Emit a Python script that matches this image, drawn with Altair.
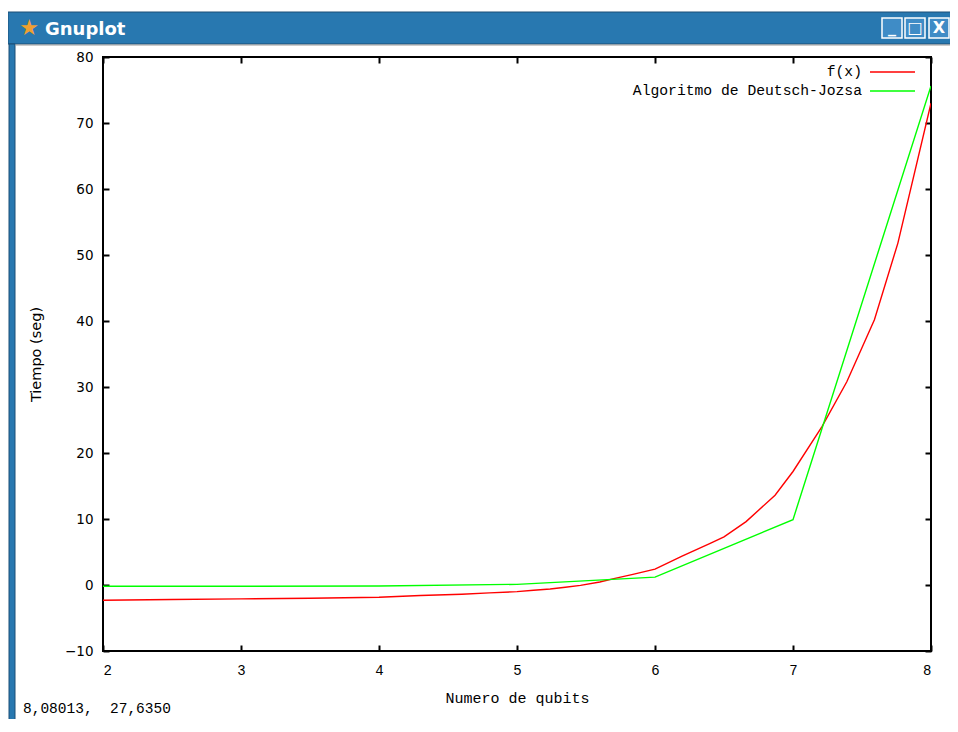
import altair as alt
import pandas as pd

# ---- data ----
red_x = [2.0, 2.5, 3.0, 3.5, 4.0, 4.3, 4.6, 4.8, 5.0, 5.12, 5.24, 5.35, 5.46, 5.6,
         5.71, 5.84, 6.0, 6.2, 6.4, 6.5, 6.66, 6.87, 7.0, 7.21, 7.39, 7.59, 7.76, 8.0]
red_y = [-2.3, -2.2, -2.1, -2.0, -1.85, -1.6, -1.4, -1.2, -1.0, -0.8, -0.6, -0.35, -0.05, 0.45,
         1.0, 1.6, 2.4, 4.4, 6.3, 7.3, 9.6, 13.6, 17.2, 24.0, 30.8, 40.2, 51.8, 73.0]
green_x = [2, 3, 4, 5, 6, 7, 8]
green_y = [-0.2, -0.2, -0.15, 0.1, 1.2, 9.9, 75.6]

series_names = ["f(x)", "Algoritmo de Deutsch-Jozsa"]
series_colors = ["#ff0000", "#00ff00"]
x_ticks = [2, 3, 4, 5, 6, 7, 8]
y_ticks = [-10, 0, 10, 20, 30, 40, 50, 60, 70, 80]
window_title = "Gnuplot"
status_text = "8,08013,\u00a0\u00a027,6350"

df = pd.concat([
    pd.DataFrame({"x": red_x, "y": red_y, "serie": series_names[0], "o": range(len(red_x))}),
    pd.DataFrame({"x": green_x, "y": green_y, "serie": series_names[1], "o": range(len(green_x))}),
])

W, H = 828, 594
MONO = "Liberation Mono"

xscale = alt.Scale(domain=[2, 8], nice=False, zero=False)
yscale = alt.Scale(domain=[-10, 80], nice=False, zero=False)
cscale = alt.Scale(domain=series_names, range=series_colors)

lines = alt.Chart(df).mark_line(strokeWidth=1.4, clip=True).encode(
    x=alt.X("x:Q", scale=xscale, axis=alt.Axis(
        values=x_ticks, orient="bottom", offset=-6, tickSize=6, tickWidth=2, tickColor="black",
        domain=False, grid=False, labelPadding=12, labelFont=MONO, labelFontSize=14,
        labelColor="black", title="Numero de qubits", titleFont=MONO, titleFontSize=15,
        titleFontWeight="normal", titleColor="black", titlePadding=13)),
    y=alt.Y("y:Q", scale=yscale, axis=alt.Axis(
        values=y_ticks, orient="left", offset=-6, tickSize=6, tickWidth=2, tickColor="black",
        domain=False, grid=False, labelPadding=10, labelFont="DejaVu Sans", labelFontSize=13.5,
        labelColor="black", title="Tiempo (seg)", titleFont="DejaVu Sans", titleFontSize=14.5,
        titleFontWeight="normal", titleColor="black", titlePadding=21)),
    color=alt.Color("serie:N", scale=cscale, legend=None),
    order="o:Q",
)

mirror = alt.Chart(df).mark_line(opacity=0).encode(
    x=alt.X("x:Q", scale=xscale, axis=alt.Axis(
        values=x_ticks, orient="top", offset=-6, tickSize=6, tickWidth=2, tickColor="black",
        domain=False, grid=False, labels=False, title=None)),
    y=alt.Y("y:Q", scale=yscale, axis=alt.Axis(
        values=y_ticks, orient="right", offset=-6, tickSize=6, tickWidth=2, tickColor="black",
        domain=False, grid=False, labels=False, title=None)),
    detail="serie:N",
)

# ---- legend (gnuplot style: text then line sample) ----
leg_layers = []
for i, (name, col) in enumerate(zip(series_names, series_colors)):
    yy = 15 + i * 19
    leg_layers.append(alt.Chart(pd.DataFrame({"t": [name]})).mark_text(
        align="right", baseline="middle", font=MONO, fontSize=14.7, color="black").encode(
        text="t:N", x=alt.value(759), y=alt.value(yy)))
    leg_layers.append(alt.Chart(pd.DataFrame({"t": [name]})).mark_rule(
        color=col, strokeWidth=1.4).encode(
        x=alt.value(767), x2=alt.value(812), y=alt.value(yy)))

# ---- window decoration ----
one = pd.DataFrame({"a": [0]})
titlebar = alt.Chart(one).mark_rect(color="#2878b0", stroke="#1b4e77", strokeWidth=1).encode(
    x=alt.value(-95), x2=alt.value(860), y=alt.value(-45), y2=alt.value(-13))
frame_left = alt.Chart(one).mark_rect(color="#2878b0", stroke="#1b4e77", strokeWidth=1).encode(
    x=alt.value(-94), x2=alt.value(-88), y=alt.value(-13), y2=alt.value(680))
inner_line = alt.Chart(one).mark_rule(color="#9a9a9a", strokeWidth=1).encode(
    x=alt.value(-88), x2=alt.value(860), y=alt.value(-12))
star = alt.Chart(pd.DataFrame({"t": ["★"]})).mark_text(
    fontSize=22, color="#f0a030", align="center", baseline="middle", font="DejaVu Sans").encode(
    text="t:N", x=alt.value(-74), y=alt.value(-29))
title_txt = alt.Chart(pd.DataFrame({"t": [window_title]})).mark_text(
    fontSize=18, fontWeight="bold", color="white", align="left", baseline="alphabetic",
    font="DejaVu Sans").encode(text="t:N", x=alt.value(-58), y=alt.value(-22))

btn_layers = []
for x0, glyph in [(779, "_"), (802, "□"), (826, "X")]:
    btn_layers.append(alt.Chart(one).mark_rect(color="#3f8cc6", stroke="white", strokeWidth=1.5).encode(
        x=alt.value(x0), x2=alt.value(x0 + 20), y=alt.value(-39), y2=alt.value(-19)))
    btn_layers.append(alt.Chart(pd.DataFrame({"t": [glyph]})).mark_text(
        fontSize=16, fontWeight="bold", color="white", align="center", baseline="middle",
        font="DejaVu Sans").encode(text="t:N", x=alt.value(x0 + 10), y=alt.value(-29)))

status = alt.Chart(pd.DataFrame({"t": [status_text]})).mark_text(
    font=MONO, fontSize=14.5, color="black", align="left", baseline="alphabetic").encode(
    text="t:N", x=alt.value(-80), y=alt.value(656))

chart = alt.layer(
    titlebar, frame_left, inner_line, star, title_txt, *btn_layers,
    lines, mirror, *leg_layers, status,
).resolve_axis(x="independent", y="independent").properties(
    width=W, height=H,
    autosize=alt.AutoSizeParams(type="none"),
    padding={"left": 95, "top": 49, "right": 19, "bottom": 68},
    background="white",
).configure_view(stroke="black", strokeWidth=2)

chart.save("out.html", embed_options={"renderer": "svg", "actions": False})
